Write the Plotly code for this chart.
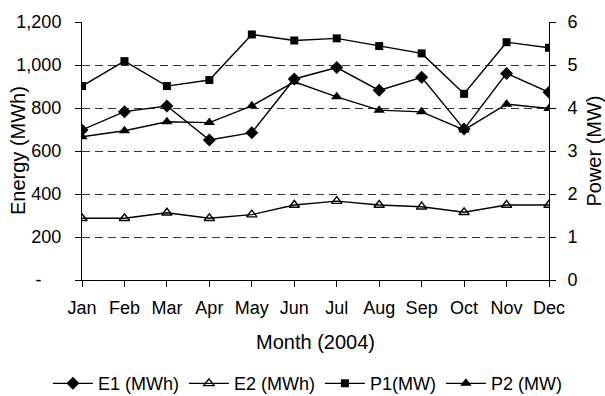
import plotly.graph_objects as go

months = ["Jan", "Feb", "Mar", "Apr", "May", "Jun", "Jul", "Aug", "Sep", "Oct", "Nov", "Dec"]
e1_mwh = [698, 783, 809, 651, 685, 935, 988, 882, 943, 702, 961, 873]
e2_mwh = [287, 287, 313, 287, 304, 349, 367, 349, 341, 315, 349, 349]
p1_mw = [4.51, 5.09, 4.51, 4.65, 5.71, 5.57, 5.62, 5.44, 5.27, 4.33, 5.53, 5.40]
p2_mw = [3.33, 3.47, 3.68, 3.66, 4.05, 4.61, 4.26, 3.95, 3.91, 3.49, 4.09, 3.99]

energy_ticks = [0, 200, 400, 600, 800, 1000, 1200]
# accounting-style zero: a dash padded on the right
energy_labels = ["-\u00a0\u00a0\u00a0\u00a0", "200", "400", "600", "800", "1,000", "1,200"]
power_ticks = [0, 1, 2, 3, 4, 5, 6]

FONT = "Liberation Sans, Arial, sans-serif"
line = dict(color="black", width=1.4)

fig = go.Figure()
fig.add_trace(go.Scatter(x=months, y=e1_mwh, name="E1 (MWh)", mode="lines+markers",
                         line=line, marker=dict(symbol="diamond", size=10, color="black")))
fig.add_trace(go.Scatter(x=months, y=e2_mwh, name="E2 (MWh)", mode="lines+markers",
                         line=line, marker=dict(symbol="triangle-up-open", size=9, color="black",
                                                line=dict(width=1.4, color="black"))))
fig.add_trace(go.Scatter(x=months, y=p1_mw, name="P1(MW)", mode="lines+markers", yaxis="y2",
                         line=line, marker=dict(symbol="square", size=8, color="black")))
fig.add_trace(go.Scatter(x=months, y=p2_mw, name="P2 (MW)", mode="lines+markers", yaxis="y2",
                         line=line, marker=dict(symbol="triangle-up", size=10, color="black")))

axis_common = dict(showline=True, linecolor="black", linewidth=1,
                   ticks="outside", ticklen=6, tickcolor="black", tickwidth=1,
                   automargin=False)

fig.update_layout(
    width=605, height=396,
    margin=dict(l=82, r=56, t=22, b=116, autoexpand=False),
    paper_bgcolor="white", plot_bgcolor="white",
    font=dict(family=FONT, size=18, color="black"),
    showlegend=True,
    legend=dict(orientation="h", x=-0.073, xanchor="left", y=-0.33, yanchor="top",
                font=dict(size=18), itemwidth=40, tracegroupgap=0),
    xaxis=dict(
        type="category", range=[0, 11], showgrid=False,
        title=dict(text="Month (2004)", standoff=18, font=dict(size=20)),
        tickfont=dict(size=18), ticklabelstandoff=5,
        **axis_common,
    ),
    yaxis=dict(
        range=[0, 1200], tickvals=energy_ticks, ticktext=energy_labels,
        showgrid=True, gridcolor="#333333", griddash="8px,5px", gridwidth=1,
        zeroline=False,
        tickfont=dict(size=18), ticklabelstandoff=10,
        **axis_common,
    ),
    yaxis2=dict(
        overlaying="y", side="right", range=[0, 6], tickvals=power_ticks,
        showgrid=False, zeroline=False,
        title=dict(text="Power (MW)", standoff=11, font=dict(size=20)),
        tickfont=dict(size=18), ticklabelstandoff=8,
        **axis_common,
    ),
    annotations=[
        dict(text="Energy (MWh)", textangle=-90, xref="paper", yref="paper",
             x=-0.137, y=0.5, xanchor="center", yanchor="middle",
             showarrow=False, font=dict(size=20)),
    ],
)

fig.write_html("out.html")
